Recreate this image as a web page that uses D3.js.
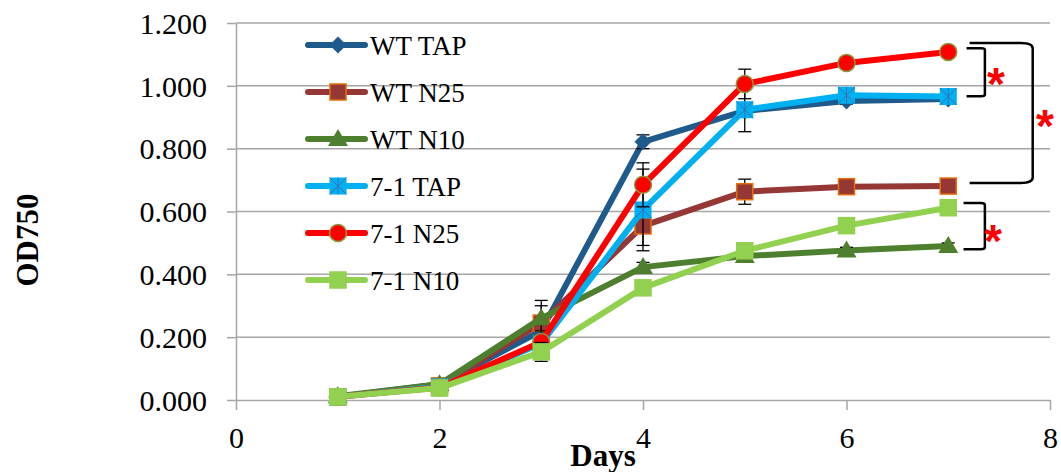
<!DOCTYPE html>
<meta charset="utf-8"/>
<title>OD750 growth</title>
<script src="https://d3js.org/d3.v7.min.js"></script>
<style>
  body { margin: 0; background: #fff; }
  svg { display: block; font-family: 'Liberation Serif', 'Times New Roman', serif; }
  .grid line { stroke: #a6a6a6; stroke-width: 1.5; }
  .axis path, .axis line { stroke: #a6a6a6; stroke-width: 1.5; }
  .axis text { fill: #000; font-size: 30px; font-family: 'Liberation Serif', 'Times New Roman', serif; }
  .serif { font-family: 'Liberation Serif', 'Times New Roman', serif; }
</style>
<svg width="1061" height="472"></svg>
<script>
  // values
  const days = [1, 2, 3, 4, 5, 6, 7];
  const seriesNames = ["WT TAP", "WT N25", "WT N10", "7-1 TAP", "7-1 N25", "7-1 N10"];
  const wtTap   = [0.010, 0.050, 0.220, 0.822, 0.920, 0.952, 0.958];
  const wtN25   = [0.010, 0.045, 0.245, 0.554, 0.663, 0.679, 0.681];
  const wtN10   = [0.012, 0.050, 0.260, 0.423, 0.458, 0.476, 0.490];
  const tap71   = [0.010, 0.042, 0.180, 0.605, 0.924, 0.970, 0.966];
  const n25_71  = [0.010, 0.040, 0.185, 0.685, 1.006, 1.073, 1.108];
  const n10_71  = [0.010, 0.038, 0.153, 0.357, 0.475, 0.555, 0.612];
  const wtTapErr  = [0.002, 0.005, 0.030, 0.022, 0.020, 0.010, 0.010];
  const wtN25Err  = [0.002, 0.005, 0.072, 0.062, 0.040, 0.010, 0.010];
  const wtN10Err  = [0.002, 0.005, 0.040, 0.015, 0.010, 0.010, 0.010];
  const tap71Err  = [0.002, 0.005, 0.020, 0.130, 0.070, 0.010, 0.010];
  const n25_71Err = [0.002, 0.005, 0.020, 0.070, 0.047, 0.010, 0.010];
  const n10_71Err = [0.002, 0.005, 0.030, 0.010, 0.010, 0.010, 0.010];
  const xTicks = [0, 2, 4, 6, 8];
  const yTicks = [0, 0.2, 0.4, 0.6, 0.8, 1.0, 1.2];

  // significance brackets, in data units
  const brackets = [
    {x0: 7.18, x1: 7.36, top: 1.120, bottom: 0.967, starX: 7.47, starY: 1.040},
    {x0: 7.21, x1: 7.83, top: 1.136, bottom: 0.691, starX: 7.95, starY: 0.907},
    {x0: 7.15, x1: 7.36, top: 0.627, bottom: 0.480, starX: 7.44, starY: 0.541}
  ];

  const values = [wtTap, wtN25, wtN10, tap71, n25_71, n10_71];
  const errs = [wtTapErr, wtN25Err, wtN10Err, tap71Err, n25_71Err, n10_71Err];
  const styles = [
    {line: "#1f5a8c", marker: "diamond", fill: "#1f5a8c", stroke: "#1f5a8c"},
    {line: "#953735", marker: "square", fill: "#953735", stroke: "#e46c0a"},
    {line: "#4e7f2e", marker: "triangle", fill: "#4e7f2e", stroke: "#4e7f2e"},
    {line: "#00b0f0", marker: "star", fill: "#00b0f0", stroke: "#3d6db5"},
    {line: "#ff0000", marker: "circle", fill: "#ff0000", stroke: "#8a9a3a"},
    {line: "#92d050", marker: "square", fill: "#92d050", stroke: "#92d050"}
  ];

  const svg = d3.select("svg");
  const x = d3.scaleLinear().domain([0, 8]).range([236, 1050]);
  const y = d3.scaleLinear().domain([0, 1.2]).range([400, 23]);

  svg.append("g").attr("class", "grid")
    .selectAll("line").data(yTicks.slice(1)).join("line")
    .attr("x1", x(0)).attr("x2", x(8))
    .attr("y1", d => y(d)).attr("y2", d => y(d));

  const yAxis = svg.append("g").attr("class", "axis")
    .attr("transform", `translate(${x(0)},0)`)
    .call(d3.axisLeft(y).tickValues(yTicks).tickFormat(d3.format(".3f")).tickSize(9).tickSizeOuter(0).tickPadding(20));
  yAxis.selectAll("text").attr("dy", "0.34em");

  svg.append("g").attr("class", "axis")
    .attr("transform", `translate(0,${y(0)})`)
    .call(d3.axisBottom(x).tickValues(xTicks).tickFormat(d3.format("d")).tickSize(10).tickSizeOuter(0).tickPadding(17));

  svg.append("text").attr("class", "serif")
    .attr("x", 603).attr("y", 466)
    .attr("text-anchor", "middle")
    .style("font-size", "31px").style("font-weight", "bold")
    .text("Days");

  svg.append("text").attr("class", "serif")
    .attr("transform", "translate(38,240) rotate(-90)")
    .attr("text-anchor", "middle")
    .style("font-size", "31px").style("font-weight", "bold")
    .text("OD750");

  function drawMarker(g, st, cx, cy) {
    if (st.marker === "diamond") {
      const h = 8.5;
      g.append("path").attr("d", `M${cx},${cy - h}L${cx + h},${cy}L${cx},${cy + h}L${cx - h},${cy}Z`)
        .attr("fill", st.fill);
    } else if (st.marker === "square") {
      const h = 8;
      g.append("rect").attr("x", cx - h).attr("y", cy - h).attr("width", 2 * h).attr("height", 2 * h)
        .attr("fill", st.fill).attr("stroke", st.stroke).attr("stroke-width", 1.5);
    } else if (st.marker === "triangle") {
      g.append("path").attr("d", `M${cx},${cy - 10}L${cx + 10},${cy + 7}L${cx - 10},${cy + 7}Z`)
        .attr("fill", st.fill);
    } else if (st.marker === "star") {
      const h = 8.5;
      g.append("rect").attr("x", cx - h).attr("y", cy - h).attr("width", 2 * h).attr("height", 2 * h)
        .attr("fill", st.fill);
      g.append("path")
        .attr("d", `M${cx - h},${cy - h}L${cx + h},${cy + h}M${cx + h},${cy - h}L${cx - h},${cy + h}M${cx},${cy - h}L${cx},${cy + h}`)
        .attr("stroke", st.stroke).attr("stroke-width", 1).attr("fill", "none");
    } else if (st.marker === "circle") {
      g.append("circle").attr("cx", cx).attr("cy", cy).attr("r", 8.5)
        .attr("fill", st.fill).attr("stroke", st.stroke).attr("stroke-width", 1.5);
    }
  }

  const line = d3.line().x((d, i) => x(days[i])).y(d => y(d));

  values.forEach((vals, s) => {
    const st = styles[s];
    const g = svg.append("g");
    g.append("path").datum(vals)
      .attr("d", line)
      .attr("fill", "none").attr("stroke", st.line)
      .attr("stroke-width", 6).attr("stroke-linejoin", "round");
    const eb = g.append("g").attr("stroke", "#000").attr("stroke-width", 1.3);
    vals.forEach((v, i) => {
      const e = errs[s][i];
      const cx = x(days[i]);
      eb.append("line").attr("x1", cx).attr("x2", cx).attr("y1", y(v - e)).attr("y2", y(v + e));
      [v - e, v + e].forEach(t => {
        eb.append("line").attr("x1", cx - 6.5).attr("x2", cx + 6.5).attr("y1", y(t)).attr("y2", y(t));
      });
    });
    vals.forEach((v, i) => drawMarker(g, st, x(days[i]), y(v)));
  });

  // legend
  const legend = svg.append("g");
  seriesNames.forEach((name, s) => {
    const st = styles[s];
    const ly = 45 + s * 47;
    legend.append("line").attr("x1", 308).attr("x2", 365).attr("y1", ly).attr("y2", ly)
      .attr("stroke", st.line).attr("stroke-width", 6).attr("stroke-linecap", "round");
    drawMarker(legend, st, 338, ly);
    legend.append("text").attr("class", "serif")
      .attr("x", 370).attr("y", ly + 9.5)
      .style("font-size", "27px").text(name);
  });

  // brackets with asterisks
  const ann = svg.append("g");
  brackets.forEach(b => {
    const x0 = x(b.x0), x1 = x(b.x1), yt = y(b.top), yb = y(b.bottom);
    const rx = Math.min(12, (x1 - x0) * 0.2), ry = rx * 0.45;
    ann.append("path")
      .attr("d", `M${x0},${yt}L${x1 - rx},${yt}Q${x1},${yt} ${x1},${yt + ry}L${x1},${yb - ry}Q${x1},${yb} ${x1 - rx},${yb}L${x0},${yb}`)
      .attr("fill", "none").attr("stroke", "#000").attr("stroke-width", 2.5);
    ann.append("text")
      .attr("x", x(b.starX)).attr("y", y(b.starY) + 27)
      .attr("text-anchor", "middle")
      .style("font-family", "'Liberation Sans', Arial, sans-serif")
      .style("font-size", "46px").style("font-weight", "bold")
      .attr("fill", "#ff0000")
      .text("*");
  });
</script>
